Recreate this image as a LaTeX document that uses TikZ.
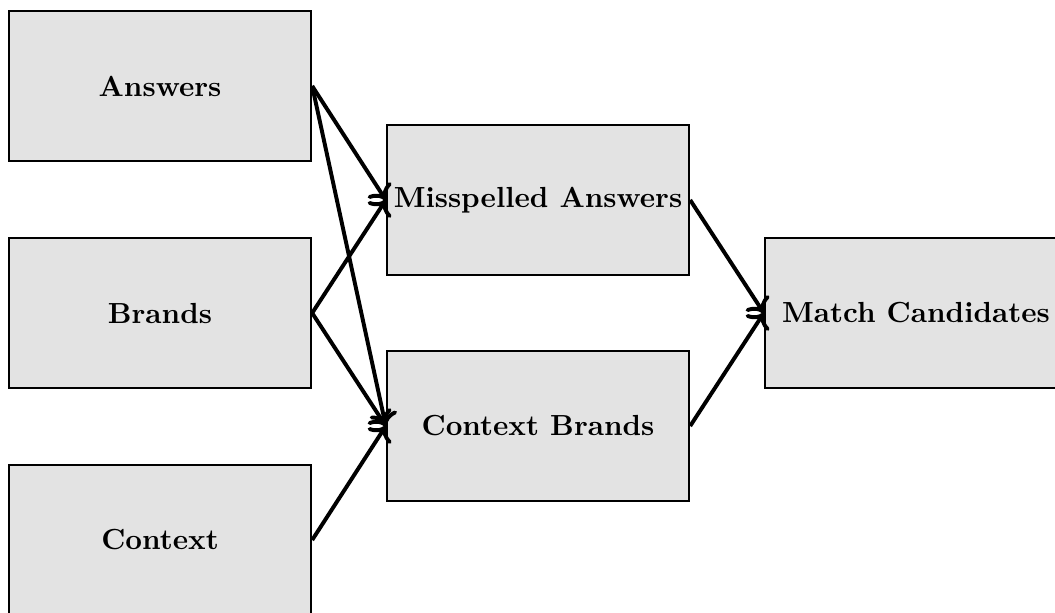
\documentclass[tikz,border=0pt]{standalone}
\usetikzlibrary{arrows.meta}
\begin{document}
\begin{tikzpicture}[x=0.344pt,y=-0.344pt,
  box/.style={draw=black,line width=0.8pt,fill=black!11,minimum width=103.9pt,minimum height=51.6pt,inner sep=0pt,font=\bfseries},
  conn/.style={->,line width=1.35pt}]
\clip (0,0) rectangle (1055,612);
\useasboundingbox (0,0) rectangle (1055,612);
\node[box] (ans) at (160,86) {Answers};
\node[box] (bra) at (160,313) {Brands};
\node[box] (ctx) at (160,540) {Context};
\node[box] (mis) at (538,200) {Misspelled Answers};
\node[box] (cb) at (538,426) {Context Brands};
\node[box] (mc) at (916,313) {Match Candidates};
\draw[conn] (ans.east) -- (mis.west);
\draw[conn] (ans.east) -- (cb.west);
\draw[conn] (bra.east) -- (mis.west);
\draw[conn] (bra.east) -- (cb.west);
\draw[conn] (ctx.east) -- (cb.west);
\draw[conn] (mis.east) -- (mc.west);
\draw[conn] (cb.east) -- (mc.west);
\end{tikzpicture}
\end{document}
